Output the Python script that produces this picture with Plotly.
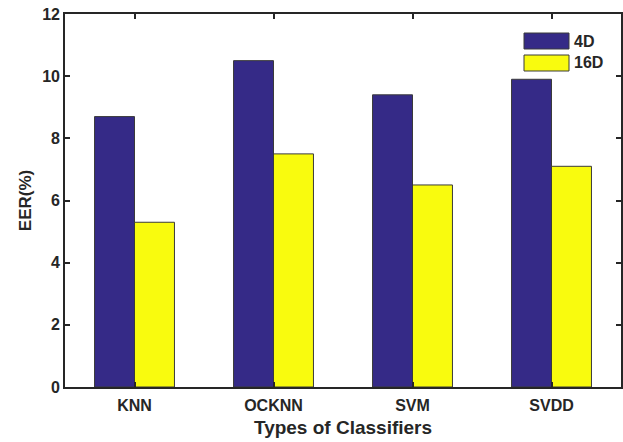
import plotly.graph_objects as go

categories = ["KNN", "OCKNN", "SVM", "SVDD"]
series_names = ["4D", "16D"]
eer_4d = [8.7, 10.5, 9.4, 9.9]
eer_16d = [5.3, 7.5, 6.5, 7.1]
colors = ["#352A87", "#F9FB0E"]
ytick_vals = [0, 2, 4, 6, 8, 10, 12]

xpos = list(range(1, len(categories) + 1))
fig = go.Figure()
for name, vals, c in zip(series_names, [eer_4d, eer_16d], colors):
    fig.add_trace(go.Bar(x=xpos, y=vals, name=name, marker=dict(color=c, line=dict(color="#3a3a3a", width=1)),
                         showlegend=False))

FAM = "Liberation Sans, Arial"
font = dict(family=FAM, size=16, color="#262626", weight="bold")
xtfont = dict(family=FAM, size=19, color="#262626", weight="bold")
ytfont = dict(family=FAM, size=17, color="#262626", weight="bold")
axis_common = dict(showline=True, linecolor="#262626", linewidth=1.6, mirror="ticks", ticks="inside",
                   ticklen=5, tickwidth=1.6, tickcolor="#262626", showgrid=False, zeroline=False,
                   tickfont=font, automargin=False)
fig.update_layout(
    width=623, height=442, paper_bgcolor="white", plot_bgcolor="white",
    margin=dict(l=65, r=2, t=14, b=55),
    barmode="group", bargap=0.425, bargroupgap=0,
    xaxis=dict(range=[0.5, 4.5], tickvals=xpos, ticktext=categories, ticklabelstandoff=3,
               title=dict(text="Types of Classifiers", font=xtfont, standoff=8),
               **axis_common),
    yaxis=dict(range=[0, 12], tickvals=ytick_vals,
               title=dict(text="EER(%)", font=ytfont, standoff=6),
               **axis_common),
)

# legend (MATLAB style, box off)
leg_x0, leg_x1 = 524, 569
leg_rows = [(33, 49), (55, 71)]
for name, c, (y0, y1) in zip(series_names, colors, leg_rows):
    fig.add_shape(type="rect", xref="paper", yref="paper",
                  x0=(leg_x0 - 65) / 556, x1=(leg_x1 - 65) / 556,
                  y0=1 - (y1 - 14) / 373, y1=1 - (y0 - 14) / 373,
                  fillcolor=c, line=dict(color="#3a3a3a", width=1))
    fig.add_annotation(xref="paper", yref="paper", x=(572 - 65) / 556, y=1 - ((y0 + y1) / 2 - 14) / 373,
                       text=name, showarrow=False, xanchor="left", yanchor="middle",
                       font=font)

fig.write_html("out.html", config={"displayModeBar": False},
               post_script="document.body.style.margin='0';")
